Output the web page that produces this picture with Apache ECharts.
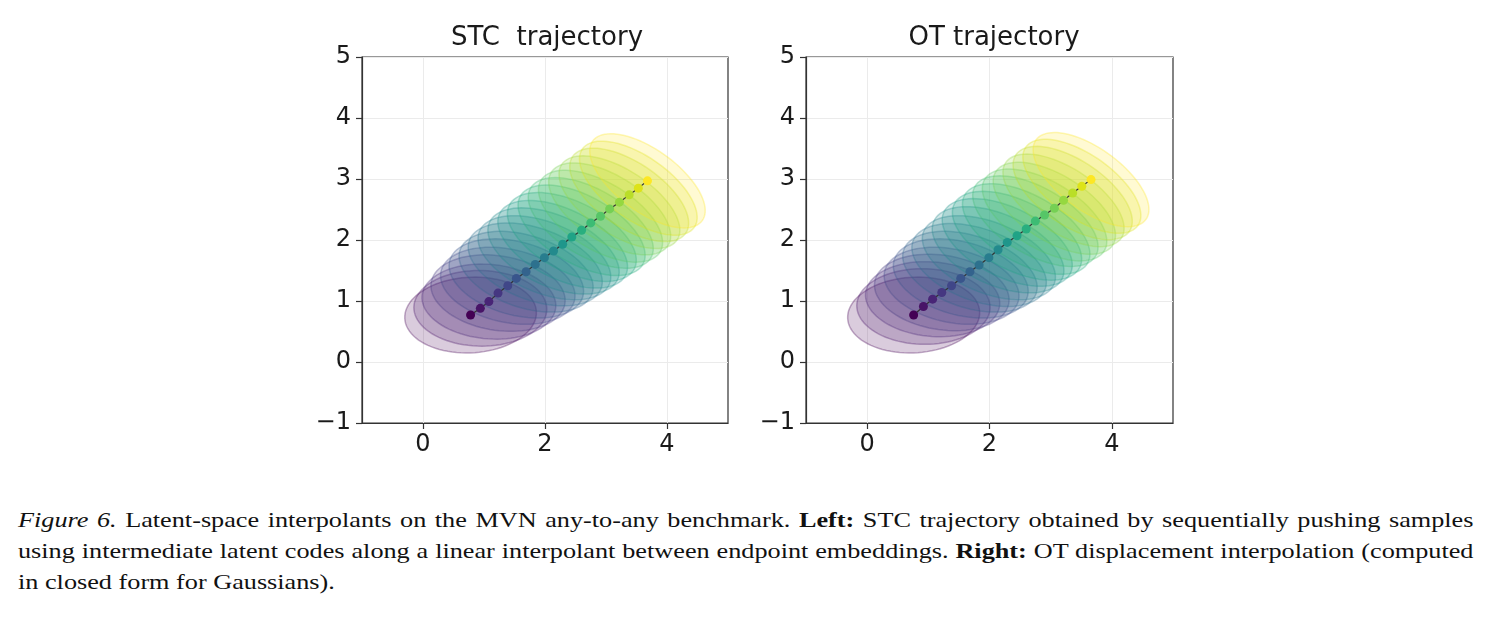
<!DOCTYPE html>
<html>
<head>
<meta charset="UTF-8">
<title>STC / OT trajectory</title>
<script src="https://cdn.jsdelivr.net/npm/echarts@6/dist/echarts.min.js"></script>
<style>
  html, body{
    margin:0;
    padding:0;
    background:#fff;
  }
  #main{
    position:absolute;
    left:0;
    top:0;
    width:1491px;
    height:480px;
  }
  .caption{
    position:absolute;
    left:18px;
    top:505px;
    width:1193px;
    transform:scaleX(1.22);
    transform-origin:0 0;
    font-family:"Liberation Serif","Times New Roman",serif;
    font-size:21.5px;
    line-height:31px;
    color:#111;
  }
  .caption div{
    white-space:nowrap;
    text-align:justify;
    text-align-last:justify;
  }
  .caption div.last{
    text-align:left;
    text-align-last:left;
  }
</style>
</head>
<body>
<div id="main"></div>
<div class="caption">
  <div><i>Figure 6.</i> Latent-space interpolants on the MVN any-to-any benchmark. <b>Left:</b> STC trajectory obtained by sequentially pushing samples</div>
  <div>using intermediate latent codes along a linear interpolant between endpoint embeddings. <b>Right:</b> OT displacement interpolation (computed</div>
  <div class="last">in closed form for Gaussians).</div>
</div>
<script>
// trajectory means
var stcX = [0.78,0.94,1.08,1.23,1.39,1.53,1.69,1.84,1.99,2.14,2.29,2.44,2.60,2.75,2.91,3.06,3.22,3.38,3.53,3.68];
var stcY = [0.77,0.88,0.99,1.13,1.25,1.37,1.48,1.60,1.71,1.82,1.93,2.05,2.16,2.28,2.39,2.51,2.62,2.74,2.85,2.97];
var otX  = [0.76,0.92,1.07,1.22,1.38,1.53,1.68,1.83,1.99,2.14,2.29,2.45,2.60,2.75,2.90,3.06,3.21,3.36,3.51,3.66];
var otY  = [0.77,0.91,1.03,1.14,1.25,1.37,1.48,1.59,1.71,1.84,1.96,2.07,2.18,2.31,2.41,2.52,2.65,2.77,2.88,2.99];
// ellipse semi-axes and rotation (deg)
var ellRx  = [1.08,1.09,1.10,1.11,1.12,1.13,1.14,1.15,1.15,1.15,1.15,1.15,1.15,1.14,1.14,1.13,1.13,1.12,1.12,1.11];
var ellRy  = [0.62,0.62,0.61,0.61,0.60,0.60,0.59,0.59,0.58,0.58,0.57,0.57,0.56,0.55,0.55,0.54,0.53,0.53,0.52,0.51];
var ellAng = [3,-1,-5,-9,-12,-15,-18,-20,-22,-24,-26,-27,-29,-30,-31,-32,-33,-34,-35,-36];
var viridis = ['#440154','#481467','#482576','#453781','#404688','#39558c','#33638d','#2d718e','#287d8e','#238a8d',
               '#1f968b','#20a386','#29af7f','#3dbc74','#56c667','#75d054','#95d840','#bade28','#dde318','#fde725'];
var xTicks = [0,2,4];
var titles = ['STC  trajectory','OT trajectory'];

function rgba(hex, a){
  var n = parseInt(hex.slice(1),16);
  return 'rgba('+(n>>16&255)+','+(n>>8&255)+','+(n&255)+','+a+')';
}

function ellipseRender(params, api){
  var cx=api.value(0), cy=api.value(1), rx=api.value(2), ry=api.value(3);
  var a=api.value(4)*Math.PI/180;
  var c=viridis[params.dataIndex];
  var pts=[];
  for(var k=0;k<90;k++){
    var t=k/90*2*Math.PI;
    var ex=rx*Math.cos(t), ey=ry*Math.sin(t);
    pts.push(api.coord([cx+ex*Math.cos(a)-ey*Math.sin(a), cy+ex*Math.sin(a)+ey*Math.cos(a)]));
  }
  return {
    type:'polygon',
    shape:{points:pts},
    style:{fill:rgba(c,0.2), stroke:rgba(c,0.32), lineWidth:1.5}
  };
}

var font = 'DejaVu Sans';
function makeX(i){
  return {
    gridIndex:i, type:'value', min:-1, max:5,
    axisLine:{show:true, onZero:false, lineStyle:{color:'#333', width:1.2}},
    axisTick:{show:true, customValues:xTicks, length:6, lineStyle:{color:'#333', width:1.2}},
    axisLabel:{customValues:xTicks, fontSize:24, fontFamily:font, color:'#1a1a1a', margin:10},
    splitLine:{show:true, lineStyle:{color:'#ebebeb', width:1}}
  };
}
function makeY(i){
  return {
    gridIndex:i, type:'value', min:-1, max:5, interval:1,
    axisLine:{show:true, onZero:false, lineStyle:{color:'#333', width:1.2}},
    axisTick:{show:true, length:6, lineStyle:{color:'#333', width:1.2}},
    axisLabel:{fontSize:24, fontFamily:font, color:'#1a1a1a', margin:11,
      formatter:function(v){ return String(v).replace('-','\u2212'); }},
    splitLine:{show:true, lineStyle:{color:'#ebebeb', width:1}}
  };
}

function plotSeries(i, xs, ys){
  var ell=[], pts=[], dots=[];
  for(var k=0;k<xs.length;k++){
    ell.push([xs[k], ys[k], ellRx[k], ellRy[k], ellAng[k]]);
    pts.push([xs[k], ys[k]]);
    dots.push({value:[xs[k], ys[k]], itemStyle:{color:viridis[k]}});
  }
  return [
    {type:'custom', xAxisIndex:i, yAxisIndex:i, data:ell, encode:{x:0,y:1},
     renderItem:ellipseRender, z:2, silent:true},
    {type:'line', xAxisIndex:i, yAxisIndex:i, data:pts, symbol:'none', z:3,
     lineStyle:{color:'#333', width:1.2}},
    {type:'scatter', xAxisIndex:i, yAxisIndex:i, data:dots, symbolSize:9, z:4,
     itemStyle:{opacity:1}}
  ];
}

var chart = echarts.init(document.getElementById('main'));
var option = {
  animation:false,
  backgroundColor:'#fff',
  title:[
    {text:titles[0], left:542, top:20, textAlign:'center',
     textStyle:{fontSize:26, fontWeight:'normal', fontFamily:font, color:'#1a1a1a'}},
    {text:titles[1], left:989, top:20, textAlign:'center',
     textStyle:{fontSize:26, fontWeight:'normal', fontFamily:font, color:'#1a1a1a'}}
  ],
  grid:[
    {left:362, top:57, width:366, height:366, show:true, borderColor:'#333', borderWidth:1.2},
    {left:806, top:57, width:367, height:366, show:true, borderColor:'#333', borderWidth:1.2}
  ],
  xAxis:[makeX(0), makeX(1)],
  yAxis:[makeY(0), makeY(1)],
  series:plotSeries(0, stcX, stcY).concat(plotSeries(1, otX, otY))
};
chart.setOption(option);
</script>
</body>
</html>
